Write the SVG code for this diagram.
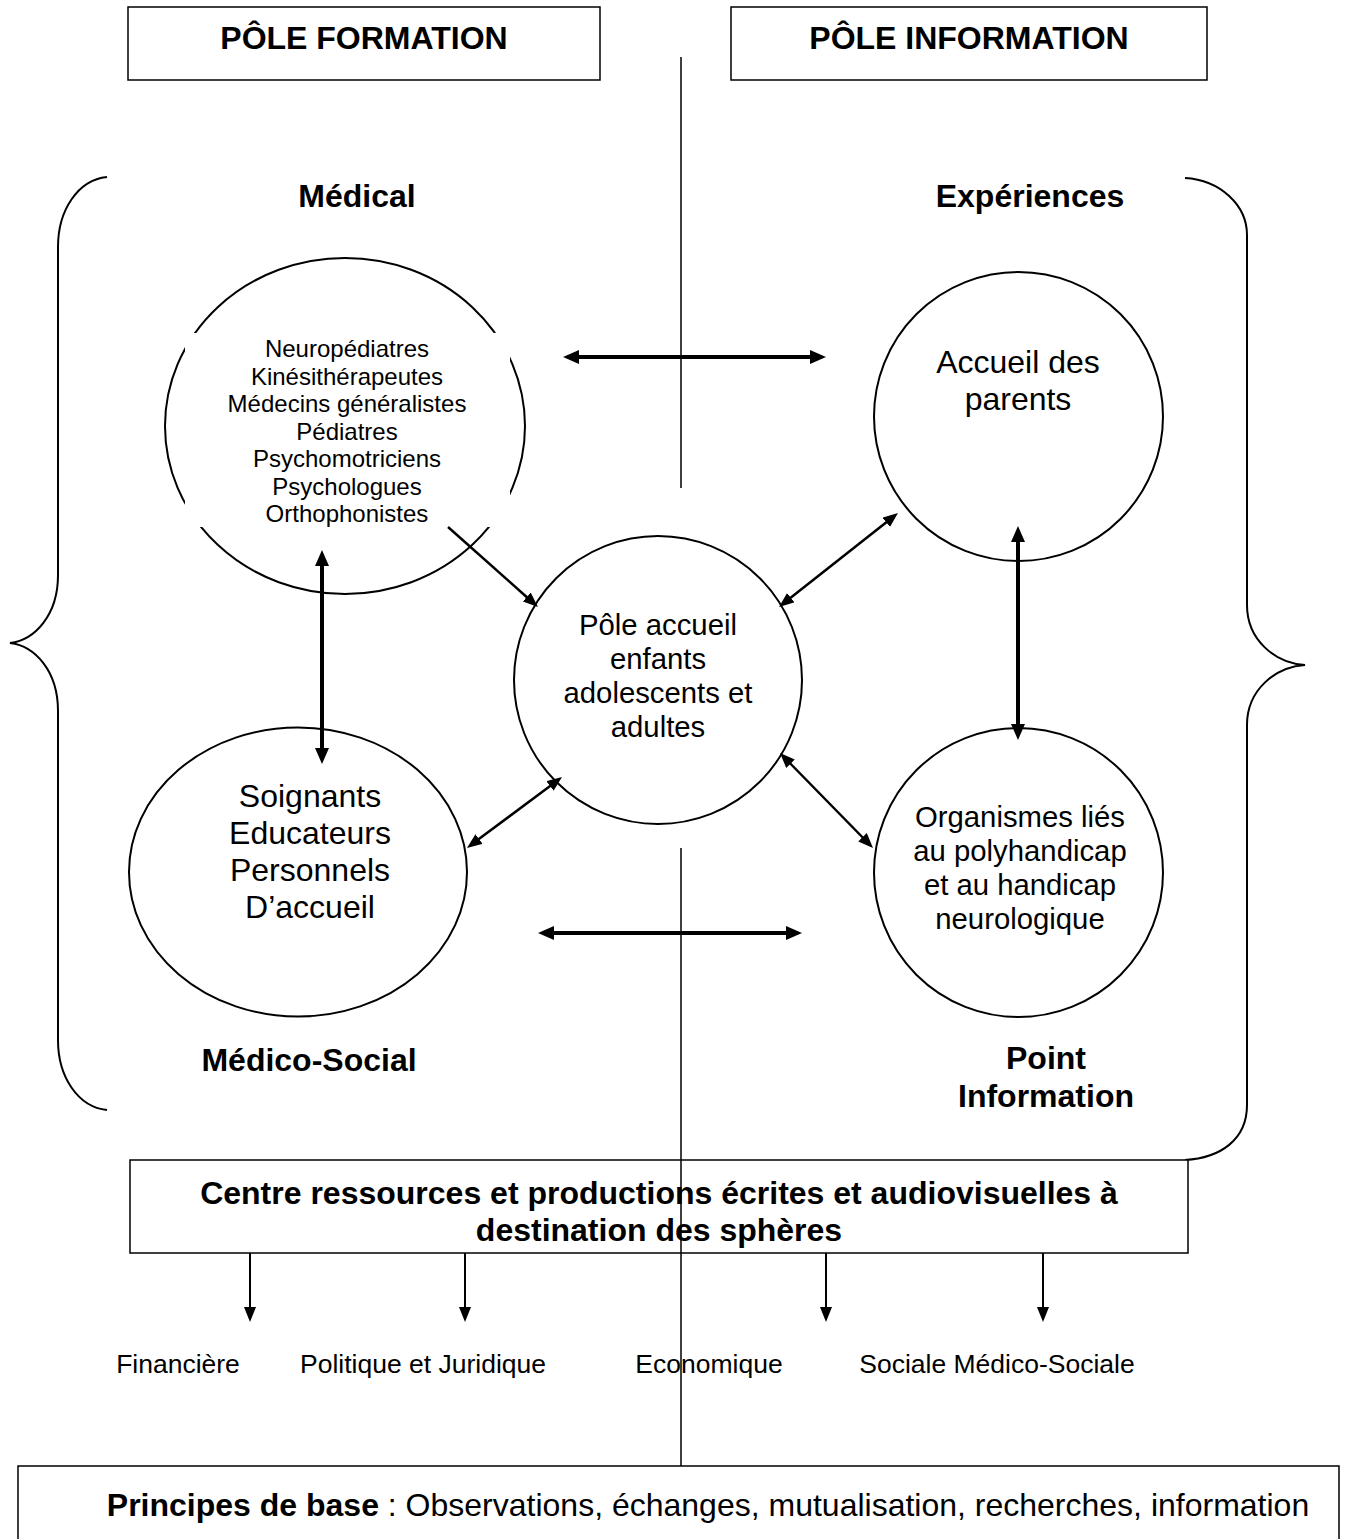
<svg xmlns="http://www.w3.org/2000/svg" width="1357" height="1539" viewBox="0 0 1357 1539">
<style>
text{font-family:"Liberation Sans",Arial,sans-serif;fill:#000;text-anchor:middle}
.b{font-weight:bold;font-size:32px}
.n32{font-size:32px}
.n29{font-size:29.3px}
.n24{font-size:24px}
.n26{font-size:26.5px}
.box{fill:#fff;stroke:#000;stroke-width:1.5}
.circ{fill:#fff;stroke:#000;stroke-width:2}
.brace{fill:none;stroke:#000;stroke-width:2}
.thick{stroke:#000;stroke-width:4;fill:none}
.thin{stroke:#000;stroke-width:2.5;fill:none}
.bl{stroke:#000;stroke-width:2;fill:none}
.vl{stroke:#000;stroke-width:1.5;fill:none}
</style>
<defs>
<marker id="ahT" viewBox="0 0 16 14" refX="1" refY="7" markerWidth="16" markerHeight="14" markerUnits="userSpaceOnUse" orient="auto-start-reverse"><path d="M0,0 L16,7 L0,14 Z" fill="#000"/></marker>
<marker id="ahS" viewBox="0 0 15 12" refX="1" refY="6" markerWidth="15" markerHeight="12" markerUnits="userSpaceOnUse" orient="auto-start-reverse"><path d="M0,0 L15,6 L0,12 Z" fill="#000"/></marker>
</defs>
<rect width="1357" height="1539" fill="#fff"/>

<g id="braces">
<path class="brace" d="M107,177 C78,180 58,210 58,247 L58,575 C58,615 35,640 10,643 C35,646 58,671 58,711 L58,1040 C58,1077 78,1107 107,1110"/>
<path class="brace" d="M1185,178 C1220,180 1247,205 1247,235 L1247,605 C1247,640 1275,663 1305,665 C1275,667 1247,690 1247,725 L1247,1105 C1247,1140 1220,1158 1185,1160"/>
</g>

<g id="pole-formation">
<rect class="box" x="128" y="7" width="472" height="73"/>
<text class="b" x="364" y="49">PÔLE FORMATION</text>
</g>
<g id="pole-information">
<rect class="box" x="731" y="7" width="476" height="73"/>
<text class="b" x="969" y="49">PÔLE INFORMATION</text>
</g>

<g id="labels">
<text class="b" x="357" y="207">Médical</text>
<text class="b" x="1030" y="207">Expériences</text>
<text class="b" x="309" y="1071">Médico-Social</text>
<text class="b" x="1046" y="1069">Point</text>
<text class="b" x="1046" y="1107">Information</text>
</g>

<g id="medical">
<ellipse class="circ" cx="345" cy="426" rx="180" ry="168"/>
<rect x="185" y="333" width="325" height="194" fill="#fff"/>
<text class="n24" x="347" y="357">Neuropédiatres</text>
<text class="n24" x="347" y="385">Kinésithérapeutes</text>
<text class="n24" x="347" y="412">Médecins généralistes</text>
<text class="n24" x="347" y="440">Pédiatres</text>
<text class="n24" x="347" y="467">Psychomotriciens</text>
<text class="n24" x="347" y="495">Psychologues</text>
<text class="n24" x="347" y="522">Orthophonistes</text>
</g>

<g id="accueil-parents">
<circle class="circ" cx="1018.5" cy="416.5" r="144.5"/>
<text class="n32" x="1018" y="373">Accueil des</text>
<text class="n32" x="1018" y="410">parents</text>
</g>

<g id="pole-accueil">
<circle class="circ" cx="658" cy="680" r="144"/>
<text class="n29" x="658" y="635">Pôle accueil</text>
<text class="n29" x="658" y="669">enfants</text>
<text class="n29" x="658" y="703">adolescents et</text>
<text class="n29" x="658" y="737">adultes</text>
</g>

<g id="soignants">
<ellipse class="circ" cx="298" cy="872" rx="169" ry="144.5"/>
<text class="n32" x="310" y="807">Soignants</text>
<text class="n32" x="310" y="844">Educateurs</text>
<text class="n32" x="310" y="881">Personnels</text>
<text class="n32" x="310" y="918">D’accueil</text>
</g>

<g id="organismes">
<circle class="circ" cx="1018.5" cy="872.5" r="144.5"/>
<text class="n29" x="1020" y="827">Organismes liés</text>
<text class="n29" x="1020" y="861">au polyhandicap</text>
<text class="n29" x="1020" y="895">et au handicap</text>
<text class="n29" x="1020" y="929">neurologique</text>
</g>

<g id="centre-ressources">
<rect class="box" x="130" y="1160" width="1058" height="93"/>
<text class="b" x="659" y="1204">Centre ressources et productions écrites et audiovisuelles à</text>
<text class="b" x="659" y="1241">destination des sphères</text>
</g>

<g id="spheres">
<text class="n26" x="178" y="1373">Financière</text>
<text class="n26" x="423" y="1373">Politique et Juridique</text>
<text class="n26" x="709" y="1373">Economique</text>
<text class="n26" x="997" y="1373">Sociale Médico-Sociale</text>
</g>

<g id="principes">
<rect class="box" x="18" y="1466" width="1321" height="90"/>
<text x="708" y="1516" style="font-size:32px"><tspan font-weight="bold">Principes de base</tspan> : Observations, échanges, mutualisation, recherches, information</text>
</g>

<g id="connectors">
<line class="vl" x1="681" y1="57" x2="681" y2="488"/>
<line class="vl" x1="681" y1="848" x2="681" y2="1466"/>
<line class="thick" x1="578" y1="357" x2="811" y2="357" marker-start="url(#ahT)" marker-end="url(#ahT)"/>
<line class="thick" x1="553" y1="933" x2="787" y2="933" marker-start="url(#ahT)" marker-end="url(#ahT)"/>
<line class="thick" x1="322" y1="565" x2="322" y2="749" marker-start="url(#ahT)" marker-end="url(#ahT)"/>
<line class="thick" x1="1018" y1="541" x2="1018" y2="725" marker-start="url(#ahT)" marker-end="url(#ahT)"/>
<line class="thin" x1="448" y1="527" x2="527.5" y2="597.7" marker-end="url(#ahS)"/>
<line class="thin" x1="790" y1="598.3" x2="887" y2="521.7" marker-start="url(#ahS)" marker-end="url(#ahS)"/>
<line class="thin" x1="550.8" y1="785.4" x2="478.2" y2="839.6" marker-start="url(#ahS)" marker-end="url(#ahS)"/>
<line class="thin" x1="789.8" y1="763" x2="863.2" y2="838" marker-start="url(#ahS)" marker-end="url(#ahS)"/>
<line class="bl" x1="250" y1="1253" x2="250" y2="1308" marker-end="url(#ahS)"/>
<line class="bl" x1="465" y1="1253" x2="465" y2="1308" marker-end="url(#ahS)"/>
<line class="bl" x1="826" y1="1253" x2="826" y2="1308" marker-end="url(#ahS)"/>
<line class="bl" x1="1043" y1="1253" x2="1043" y2="1308" marker-end="url(#ahS)"/>
</g>
</svg>
